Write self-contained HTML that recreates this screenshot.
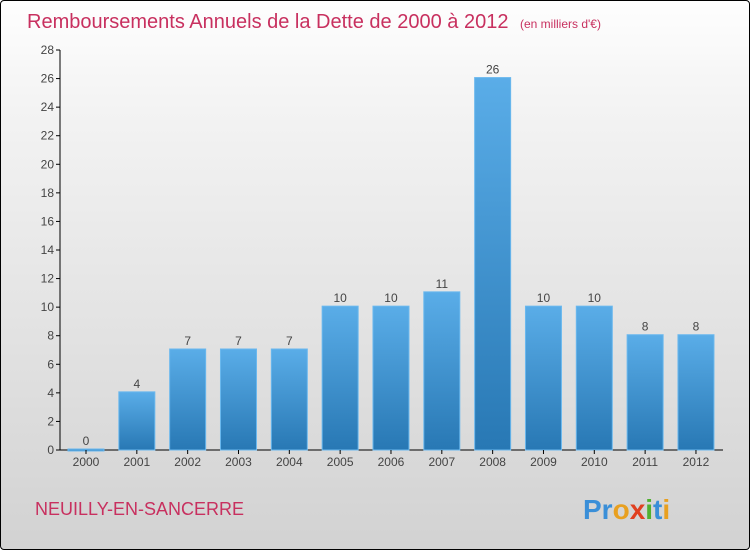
<!DOCTYPE html>
<html><head><meta charset="utf-8"><style>
body{margin:0;width:750px;height:550px;overflow:hidden;font-family:"Liberation Sans",sans-serif}
#wrap{position:relative;width:748px;height:548px;border:1px solid #000;border-radius:4px;background:linear-gradient(#fefefe,#f3f3f3 20%,#d2d2d2 100%)}
</style></head><body>
<div id="wrap">
<svg width="748" height="548" style="position:absolute;left:0;top:0" id="svg">
<defs><linearGradient id="bg" x1="0" y1="0" x2="0" y2="1"><stop offset="0" stop-color="#5aade8"/><stop offset="1" stop-color="#2878b4"/></linearGradient></defs>
<text x="26" y="27" font-size="20" fill="#c8305f">Remboursements Annuels de la Dette de 2000 à 2012 <tspan font-size="12" dx="6">(en milliers d'€)</tspan></text>
<text x="34" y="514" font-size="18" fill="#c8305f">NEUILLY-EN-SANCERRE</text>
<text x="582" y="518" font-size="28" font-weight="bold"><tspan fill="#3a8fd8">Pr</tspan><tspan fill="#e8a020">o</tspan><tspan fill="#e04020">x</tspan><tspan fill="#50b030">i</tspan><tspan fill="#3a8fd8">t</tspan><tspan fill="#e8a020">i</tspan></text>
<g id="g"></g>
</svg></div>
<script>
const years=["2000","2001","2002","2003","2004","2005","2006","2007","2008","2009","2010","2011","2012"];
const values=[0,4,7,7,7,10,10,11,26,10,10,8,8];
const yTicks=[0,2,4,6,8,10,12,14,16,18,20,22,24,26,28];
const NS="http://www.w3.org/2000/svg",g=document.getElementById('g');
const y=v=>449-v*(400/28), x=i=>85+i*50.83;
function mk(t,a){const e=document.createElementNS(NS,t);for(const k in a)e.setAttribute(k,a[k]);g.appendChild(e);return e;}
let ax=mk('line',{x1:59,y1:49,x2:59,y2:449,stroke:'#000'});


let xa=mk('line',{x1:59,y1:449,x2:722,y2:449,stroke:'#000'});


yTicks.forEach(v=>{
 let t=mk('line',{x1:55,x2:59,y1:y(v),y2:y(v),stroke:'#000'});
 
 
 let l=mk('text',{x:53,y:y(v)+4,'font-size':12,fill:'#444','text-anchor':'end'});l.textContent=v;
 
 
});
years.forEach((yr,i)=>{
 const cx=x(i);
 let b=mk('rect',{x:cx-18,y:y(values[i])-1,width:36,height:Math.max(449-y(values[i])+1,2),fill:'url(#bg)',stroke:'#6ab8ee','stroke-width':1});
 
 
 let v=mk('text',{x:cx,y:y(values[i])-5,'font-size':12,fill:'#444','text-anchor':'middle'});v.textContent=values[i];
 
 
 let t=mk('line',{x1:cx,x2:cx,y1:449,y2:453,stroke:'#000'});
 
 
 let l=mk('text',{x:cx,y:465,'font-size':12,fill:'#444','text-anchor':'middle'});l.textContent=yr;
 
 
});
</script>
</body></html>
